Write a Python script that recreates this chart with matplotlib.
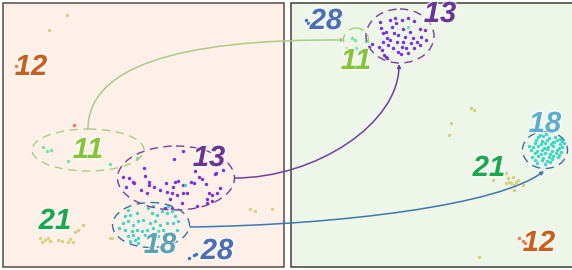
import matplotlib
matplotlib.use("Agg")
import matplotlib.pyplot as plt
import matplotlib.patheffects as pe
from matplotlib.patches import Rectangle, Ellipse, FancyArrowPatch
from matplotlib.path import Path

# --- data (pixel coordinates, y grows downward) ---

# left panel, cluster 13 (violet)
left_13_x = [183, 174, 144, 123, 129, 133, 134, 149, 149, 141, 147, 154, 160, 166, 167,
             173, 175, 178, 172, 170, 177, 183, 183, 187, 191, 194, 195, 199, 202, 206,
             216, 215, 223, 209, 212, 217, 220, 207, 207, 212, 182, 197, 165, 172, 145, 126]
left_13_y = [151, 159, 168, 177, 178, 182, 183, 182, 185, 190, 193, 187, 190, 183, 192,
             187, 182, 181, 193, 199, 195, 185, 193, 193, 182, 183, 171, 177, 179, 184,
             173, 174, 170, 193, 195, 193, 188, 199, 203, 201, 203, 206, 208, 208, 176, 187]

# left panel, cluster 18 (turquoise)
left_18_x = [125, 130, 137, 148, 152, 157, 162, 167, 172, 175, 123, 128, 133, 138, 143,
             150, 155, 160, 167, 173, 178, 125, 132, 137, 142, 147, 153, 158, 163, 177,
             128, 133, 138, 145, 152, 158, 130, 135, 138, 128, 153, 168, 185, 119, 171]
left_18_y = [216, 215, 213, 208, 213, 215, 211, 213, 211, 216, 223, 221, 225, 221, 220,
             223, 221, 225, 223, 223, 221, 230, 231, 230, 231, 230, 228, 231, 230, 230,
             236, 235, 238, 235, 236, 236, 241, 240, 243, 210, 206, 206, 185, 228, 233]

# left panel, cluster 11 (mint)
left_11_x = [43, 47, 51, 68, 110, 137]
left_11_y = [147, 151, 150, 161, 164, 158]

# left panel, cluster 21 (khaki) and stray khaki dots
left_21_x = [40, 42, 45, 48, 50, 58, 62, 68, 70, 73, 75, 78, 83, 112, 110, 250, 255, 272, 67, 49]
left_21_y = [238, 242, 240, 238, 241, 240, 241, 242, 239, 242, 232, 230, 225, 238, 238, 209, 211, 209, 15, 30]

# left panel, clusters 12 and 28
left_12_x = [16, 74]
left_12_y = [66, 125]
left_28_x = [189, 194, 196]
left_28_y = [258, 255, 254]

# right panel, cluster 13 (violet)
right_13_x = [380, 390, 395, 396, 402, 408, 414, 392, 403, 410, 420, 425, 383, 394, 398,
              405, 413, 421, 387, 383, 390, 397, 403, 411, 417, 426, 379, 388, 393, 402,
              406, 414, 420, 382, 398, 401, 386, 408, 372, 369, 387, 381, 386, 384]
right_13_y = [22, 20, 18, 23, 20, 18, 21, 27, 29, 32, 29, 30, 33, 33, 35,
              37, 38, 37, 38, 42, 40, 42, 42, 43, 42, 40, 47, 45, 48, 47,
              48, 48, 45, 50, 52, 54, 57, 53, 44, 47, 58, 28, 32, 55]

# right panel, cluster 18 (turquoise)
right_18_x = [538, 543, 549, 555, 560, 536, 542, 547, 553, 557, 562, 535, 541, 545, 551,
              554, 560, 564, 533, 538, 544, 548, 553, 559, 562, 531, 537, 542, 547, 552,
              557, 561, 535, 541, 545, 550, 556, 559, 532, 538, 543, 549, 553, 558, 535,
              542, 547, 552, 537, 545, 550, 529, 546, 540]
right_18_y = [137, 136, 138, 137, 139, 140, 141, 140, 142, 140, 141, 143, 144, 143, 144,
              142, 144, 143, 147, 146, 148, 147, 146, 148, 147, 150, 151, 150, 149, 151,
              150, 152, 153, 154, 153, 154, 153, 155, 157, 156, 158, 157, 156, 157, 160,
              160, 161, 159, 163, 164, 162, 146, 134, 135]

# right panel, cluster 11 (mint) and one turquoise dot inside 13
right_11_x = [352, 355, 366, 356, 408]
right_11_y = [38, 40, 41, 48, 27]

# right panel, cluster 21 (khaki) and stray khaki dots
right_21_x = [493, 506, 508, 509, 513, 516, 514, 511, 506, 523, 514, 518, 471, 474, 451, 449, 479]
right_21_y = [180, 173, 178, 182, 177, 182, 185, 183, 183, 185, 190, 180, 108, 110, 123, 135, 257]

# right panel, clusters 12 and 28
right_12_x = [519, 523, 525]
right_12_y = [238, 241, 243]
right_28_x = [306, 308]
right_28_y = [20, 23]

# cluster outlines: (centre x, centre y, width, height)
ellipses = {
    "left_11": (88, 150, 112, 42),
    "left_13": (176, 178, 117, 64),
    "left_18": (151, 225, 77, 45),
    "right_11": (356, 40, 25, 24),
    "right_13": (400, 36, 68, 54),
    "right_18": (545, 150, 45, 37),
}

# labels: text, x, y, colour
labels = [
    ("12", 31, 67, "#c8601c"), ("11", 88, 150, "#86c43a"), ("13", 209, 158, "#6b3592"),
    ("21", 55, 221, "#1aa84c"), ("18", 160, 245, "#5aa2b4"), ("28", 217, 251, "#4a6fb6"),
    ("28", 326, 21, "#4a6fb6"), ("11", 356, 61, "#86c43a"), ("13", 440, 14, "#6b3592"),
    ("21", 489, 168, "#1aa84c"), ("18", 545, 124, "#5aaed0"), ("12", 539, 243, "#c8601c"),
]

VIOLET = "#7a2fe0"
TURQ = "#3fd6c6"
MINT = "#6ee6a6"
KHAKI = "#d2d27c"
ORANGE = "#f07850"
BLUE_DOT = "#3a6fd0"

fig = plt.figure(figsize=(5.72, 2.70), dpi=100)
ax = fig.add_axes([0, 0, 1, 1])
ax.set_xlim(0, 572)
ax.set_ylim(270, 0)
ax.axis("off")

# panels
ax.add_patch(Rectangle((3, 3), 281, 264, facecolor="#fdf0e8", edgecolor="#5a4a44", lw=1.1, zorder=0))
ax.add_patch(Rectangle((291, 3), 290, 264, facecolor="#eef5e9", edgecolor="#3c4438", lw=1.1, zorder=0))

# points
s = 6
groups = [
    (left_21_x, left_21_y, KHAKI), (right_21_x, right_21_y, KHAKI),
    (left_13_x, left_13_y, VIOLET), (right_13_x, right_13_y, VIOLET),
    (left_18_x, left_18_y, TURQ), (right_18_x, right_18_y, TURQ),
    (left_11_x, left_11_y, MINT), (right_11_x, right_11_y, MINT),
    (left_12_x, left_12_y, ORANGE), (right_12_x, right_12_y, ORANGE),
    (left_28_x, left_28_y, BLUE_DOT), (right_28_x, right_28_y, BLUE_DOT),
]
for xs, ys, col in groups:
    ax.scatter(xs, ys, s=s, color=col, lw=0, zorder=2)

# dashed outlines
ell_colors = {"11": "#a6cf80", "13": "#7a3c9c", "18": "#3b6ea6"}
for key, (cx, cy, w, h) in ellipses.items():
    col = ell_colors[key.split("_")[1]]
    ax.add_patch(Ellipse((cx, cy), w, h, fill=False, edgecolor=col, lw=1.0,
                         linestyle=(0, (6, 4)), zorder=3))

# connecting curves
def link(verts, codes, color):
    arr = FancyArrowPatch(path=Path(verts, codes), arrowstyle="-|>", mutation_scale=5,
                          color=color, lw=1.1, zorder=4)
    ax.add_patch(arr)

link([(88, 129), (88, 38), (345, 40)], [Path.MOVETO, Path.CURVE3, Path.CURVE3], "#a8cc88")
link([(235, 178), (315, 178), (399, 124), (399, 64)],
     [Path.MOVETO, Path.CURVE4, Path.CURVE4, Path.CURVE4], "#7040a0")
link([(190, 227), (340, 225), (500, 205), (544, 171)],
     [Path.MOVETO, Path.CURVE4, Path.CURVE4, Path.CURVE4], "#3a78b0")

# labels
for txt, x, y, col in labels:
    ax.text(x, y, txt, color=col, fontsize=21, fontweight="bold", fontstyle="italic",
            family="Liberation Sans", ha="center", va="center", zorder=5,
            path_effects=[pe.withStroke(linewidth=2.5, foreground="white", alpha=0.6)])

fig.savefig("out.png", dpi=100)
